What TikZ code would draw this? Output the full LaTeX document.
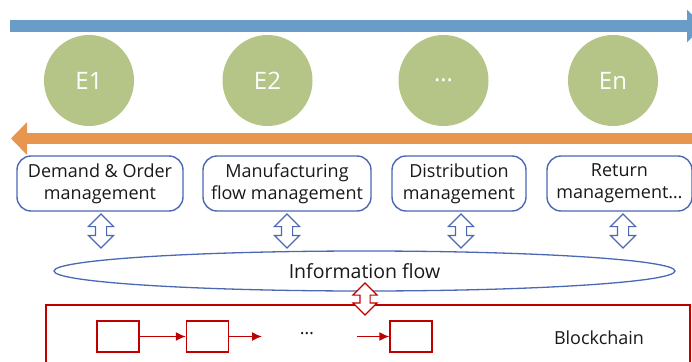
\documentclass[tikz,border=0pt]{standalone}
\usepackage{fontspec}
\setmainfont{Open Sans}
\usepackage{xcolor}
\usepackage{tikz}
\usetikzlibrary{shapes.geometric, shapes.arrows, arrows.meta, positioning}

\definecolor{flowblue}{HTML}{6A9CC8}
\definecolor{floworange}{HTML}{E8954E}
\definecolor{entgreen}{HTML}{B5C487}
\definecolor{boxblue}{HTML}{4B68B4}
\definecolor{chainred}{HTML}{C00000}

\begin{document}
\begin{tikzpicture}[
    x=1pt, y=-1pt,
    every node/.style={font=\fontsize{18}{22}\selectfont, text=black!90},
    entity/.style={ellipse, fill=entgreen, minimum width=90pt, minimum height=91pt,
                inner sep=0pt, text=white, font=\fontsize{24}{28}\selectfont},
    process/.style={draw=boxblue, line width=1.4pt, rounded corners=14pt, fill=white,
                minimum height=55pt, align=center, inner sep=0pt},
    linkarrow/.style={double arrow, draw=boxblue, line width=1.1pt, fill=white,
                shape border rotate=90, inner sep=5pt, minimum width=25pt,
                minimum height=34pt, double arrow head extend=7pt},
    block/.style={draw=chainred, line width=1.4pt, minimum width=42pt, minimum height=31pt,
                inner sep=0pt},
    chainarrow/.style={-{Latex[length=10pt,width=9pt]}, line width=1.4pt, draw=chainred}
]
\useasboundingbox (0,0) rectangle (692,361);

% forward and backward flow
\coordinate (fwdstart) at (10,26);
\coordinate (fwdend) at (703,26);
\coordinate (bckstart) at (700,138.5);
\coordinate (bckend) at (11,138.5);
\draw[line width=12pt, draw=flowblue, -{Triangle[length=16pt,width=32pt]}] (fwdstart) -- (fwdend);
\draw[line width=11pt, draw=floworange, -{Triangle[length=16pt,width=32pt]}] (bckstart) -- (bckend);

% enterprises
\node[entity] (e1) at (89,80.5) {E1};
\node[entity] (e2) at (267.5,80.5) {E2};
\node[entity] (edots) at (443.5,80.5) {\ldots};
\node[entity] (en) at (613,80.5) {En};

% management processes
\node[process, minimum width=166pt] (demand) at (100,183.5)
    {Demand \& Order\\management};
\node[process, minimum width=168pt] (manuf) at (287,183.5)
    {Manufacturing\\flow management};
\node[process, minimum width=134pt] (distrib) at (459,183.5)
    {Distribution\\management};
\node[process, minimum width=145pt] (ret) at (619.5,183.5)
    {Return\\management\ldots};

\node[linkarrow] (l1) at (101,231) {};
\node[linkarrow] (l2) at (287,231) {};
\node[linkarrow] (l3) at (461,231) {};
\node[linkarrow] (l4) at (623,231) {};

\node[ellipse, draw=boxblue, line width=1.3pt, minimum width=621pt, minimum height=40pt,
      inner sep=0pt, font=\fontsize{19.5}{22}\selectfont] (info) at (364.5,271) {Information flow};

% blockchain
\node[draw=chainred, line width=1.5pt, minimum width=644pt, minimum height=70pt,
      inner sep=0pt] (chain) at (368,340) {};
\node[linkarrow, draw=chainred, inner sep=4.5pt, minimum width=24pt, minimum height=32pt]
    (l5) at (365,299) {};

\node[block] (b1) at (118,336.5) {};
\node[block] (b2) at (207.5,336.5) {};
\node[block] (b3) at (411,336.5) {};
\node (bdots) at (307,334) {\ldots};
\coordinate (c1) at (262,336.5);
\coordinate (c2) at (357,336.5);
\node (bclabel) at (599,338) {Blockchain};

\draw[chainarrow] (b1) -- (b2);
\draw[chainarrow] (b2) -- (c1);
\draw[chainarrow] (c2) -- (b3);
\end{tikzpicture}
\end{document}
